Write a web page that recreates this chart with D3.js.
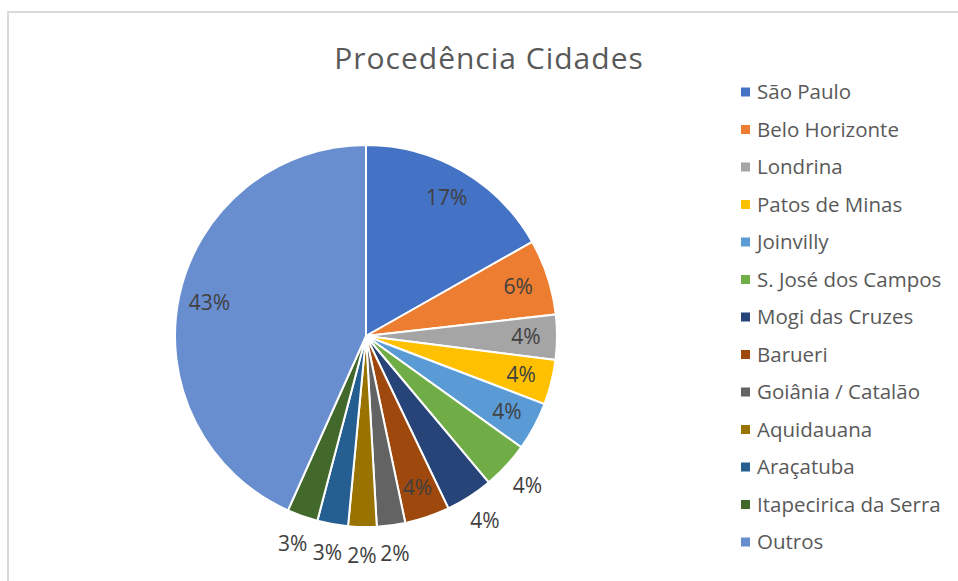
<!DOCTYPE html>
<html>
<head>
<meta charset="utf-8">
<script src="https://cdn.jsdelivr.net/npm/d3@7"></script>
<style>
  body { margin: 0; background: #fff; }
  text { font-family: "Open Sans", "Noto Sans", sans-serif; }
</style>
</head>
<body>
<svg id="chart" width="958" height="581"></svg>
<script>
const cities = ['São Paulo', 'Belo Horizonte', 'Londrina', 'Patos de Minas', 'Joinvilly',
  'S. José dos Campos', 'Mogi das Cruzes', 'Barueri', 'Goiânia / Catalão', 'Aquidauana',
  'Araçatuba', 'Itapecirica da Serra', 'Outros'];
const shares = [16.8, 6.4, 3.8, 3.8, 4.1, 4.0, 4.0, 3.8, 2.4, 2.4, 2.6, 2.6, 43.3];
const colors = ['#4472C4', '#ED7D31', '#A5A5A5', '#FFC000', '#5B9BD5', '#70AD47', '#264478',
  '#9E480E', '#636363', '#997300', '#255E91', '#43682B', '#698ED0'];
// slices whose label sits outside the pie (Excel "best fit")
const outside = ['S. José dos Campos', 'Mogi das Cruzes', 'Goiânia / Catalão', 'Aquidauana',
  'Araçatuba', 'Itapecirica da Serra'];

const svg = d3.select('#chart');
const cx = 366;
const cy = 336;
const radius = 191;

// chart frame
svg.append('rect')
  .attr('x', 8).attr('y', 12)
  .attr('width', 1000).attr('height', 1000)
  .attr('fill', '#fff')
  .attr('stroke', '#d9d9d9')
  .attr('stroke-width', 2);

svg.append('text')
  .attr('x', 489)
  .attr('y', 58)
  .attr('dy', '0.35em')
  .attr('text-anchor', 'middle')
  .style('font-size', '30px')
  .style('letter-spacing', '1px')
  .style('fill', '#595959')
  .text('Procedência Cidades');

const color = d3.scaleOrdinal().domain(cities).range(colors);
const data = cities.map((c, i) => ({ city: c, value: shares[i] }));
const total = d3.sum(shares);

const pie = d3.pie().sort(null).value((d) => d.value);
const arc = d3.arc().innerRadius(0).outerRadius(radius);
const inLabel = d3.arc().innerRadius(160).outerRadius(160);
const outLabel = d3.arc().innerRadius(220).outerRadius(220);

const chart = svg.append('g')
  .attr('transform', `translate(${cx},${cy})`);

const arcs = pie(data);

chart.selectAll('path')
  .data(arcs)
  .join('path')
  .attr('d', arc)
  .attr('fill', (d) => color(d.data.city))
  .attr('stroke', '#fff')
  .attr('stroke-width', 2);

chart.selectAll('text')
  .data(arcs)
  .join('text')
  .attr('transform', (d) => `translate(${(outside.includes(d.data.city) ? outLabel : inLabel).centroid(d)})`)
  .attr('text-anchor', 'middle')
  .attr('dy', '0.35em')
  .style('font-size', '21px')
  .style('fill', '#404040')
  .text((d) => d3.format('.0%')(d.data.value / total));

// legend
const ly = d3.scalePoint().domain(cities).range([92, 542]);
const legend = svg.append('g');
const item = legend.selectAll('g')
  .data(cities)
  .join('g')
  .attr('transform', (d) => `translate(741,${ly(d)})`);

item.append('rect')
  .attr('x', 0).attr('y', -4.5)
  .attr('width', 9).attr('height', 9)
  .attr('fill', (d) => color(d));

item.append('text')
  .attr('x', 16)
  .attr('dy', '0.35em')
  .style('font-size', '20.5px')
  .style('fill', '#595959')
  .text((d) => d);
</script>
</body>
</html>
